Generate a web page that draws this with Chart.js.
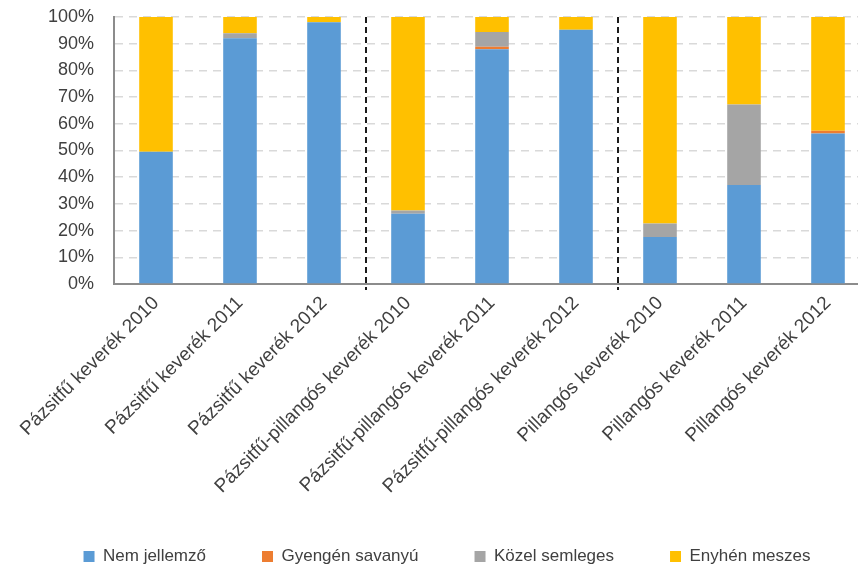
<!DOCTYPE html>
<html>
<head>
<meta charset="utf-8">
<script src="https://cdn.jsdelivr.net/npm/chart.js@4"></script>
<style>
html, body { margin:0; padding:0; background:#ffffff; overflow:hidden; }
#wrap { width:858px; height:571px; overflow:hidden; }
</style>
</head>
<body>
<div id="wrap"><canvas id="stack_chart_canvas" width="870" height="571"></canvas></div>
<script>
var categories = ['Pázsitfű keverék 2010', 'Pázsitfű keverék 2011', 'Pázsitfű keverék 2012',
	'Pázsitfű-pillangós keverék 2010', 'Pázsitfű-pillangós keverék 2011', 'Pázsitfű-pillangós keverék 2012',
	'Pillangós keverék 2010', 'Pillangós keverék 2011', 'Pillangós keverék 2012'];

var nem_jellemzo    = [49.5, 92.0, 98.0, 26.3, 87.9, 95.2, 17.6, 37.1, 56.4];
var gyengen_savanyu = [0,    0,    0,    0,    1.0,  0,    0,    0,    1.0];
var kozel_semleges  = [0,    1.9,  0,    1.2,  5.5,  0,    5.1,  30.1, 0];
var enyhen_meszes   = [50.5, 6.1,  2.0,  72.5, 5.6,  4.8,  77.3, 32.8, 42.6];

var y_ticks = [0, 10, 20, 30, 40, 50, 60, 70, 80, 90, 100];

// categories after which a dashed separator line is drawn
var group_breaks = [3, 6];

var text_color = '#404040';
var font_family = '"Liberation Sans", Arial, sans-serif';

// dashed vertical lines between the three mixtures
var separators = {
	id: 'separators',
	afterDatasetsDraw: function(chart) {
		var xs = chart.scales.x;
		var area = chart.chartArea;
		var ctx = chart.ctx;
		ctx.save();
		ctx.strokeStyle = '#1a1a1a';
		ctx.lineWidth = 2;
		ctx.setLineDash([6, 4]);
		for (var i = 0; i < group_breaks.length; i++) {
			var x = (xs.getPixelForValue(group_breaks[i] - 1) + xs.getPixelForValue(group_breaks[i])) / 2;
			ctx.beginPath();
			ctx.moveTo(x, area.top);
			ctx.lineTo(x, area.bottom + 6);
			ctx.stroke();
		}
		ctx.restore();
	}
};

var ctx = document.getElementById('stack_chart_canvas').getContext('2d');
var chart = new Chart(ctx, {
	type: 'bar',
	data: {
		labels: categories,
		datasets: [
			{ label: 'Nem jellemző', data: nem_jellemzo, backgroundColor: '#5B9BD5' },
			{ label: 'Gyengén savanyú', data: gyengen_savanyu, backgroundColor: '#ED7D31' },
			{ label: 'Közel semleges', data: kozel_semleges, backgroundColor: '#A5A5A5' },
			{ label: 'Enyhén meszes', data: enyhen_meszes, backgroundColor: '#FFC000' }
		]
	},
	options: {
		responsive: false,
		animation: false,
		devicePixelRatio: 1,
		datasets: { bar: { barPercentage: 0.4, categoryPercentage: 1.0 } },
		layout: { padding: { top: 17, left: 24, right: 0, bottom: 0 } },
		scales: {
			x: {
				stacked: true,
				grid: { display: false, drawTicks: false },
				border: { display: true, color: '#8c8c8c', width: 2 },
				ticks: {
					color: text_color,
					font: { family: font_family, size: 19 },
					minRotation: 45,
					maxRotation: 45,
					padding: 8,
					autoSkip: false
				},
				afterFit: function(scale) {
					scale.height = 208;
					// long labels may run into the empty top of the legend box
					scale._computeLabelArea = function() { return null; };
				}
			},
			y: {
				stacked: true,
				min: 0,
				max: 100,
				afterBuildTicks: function(scale) {
					scale.ticks = y_ticks.map(function(v) { return { value: v }; });
				},
				grid: { color: '#d9d9d9', lineWidth: 1.5, drawTicks: true, tickLength: 17, tickColor: 'rgba(0,0,0,0)' },
				border: { display: true, color: '#8c8c8c', width: 2, dash: [8, 6] },
				ticks: {
					color: text_color,
					font: { family: font_family, size: 18 },
					padding: 3,
					callback: function(v) { return v + '%'; }
				},
				afterFit: function(scale) { scale.width = 90; }
			}
		},
		plugins: {
			tooltip: { enabled: false },
			legend: {
				position: 'bottom',
				maxHeight: 79,
				labels: {
					color: text_color,
					font: { family: font_family, size: 17 },
					boxWidth: 11,
					boxHeight: 11,
					padding: 56
				}
			}
		}
	},
	plugins: [separators]
});
</script>
</body>
</html>
